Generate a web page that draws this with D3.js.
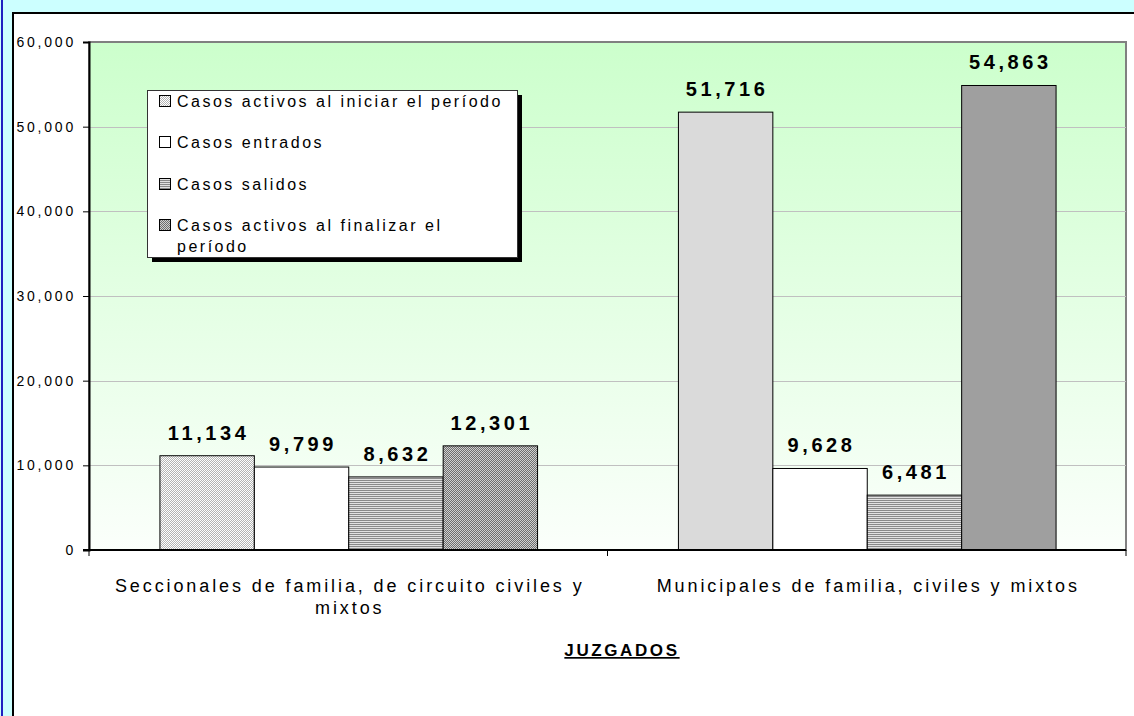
<!DOCTYPE html>
<html>
<head>
<meta charset="utf-8">
<script src="https://cdn.jsdelivr.net/npm/d3@7/dist/d3.min.js"></script>
<style>
  body { margin: 0; background: #ccffff; }
  svg { display: block; font-family: "Liberation Sans", Arial, sans-serif; }
</style>
</head>
<body>
<div id="chart"></div>
<script>
// data
var categories = [
  'Seccionales de familia,  de circuito civiles y mixtos',
  'Municipales de familia, civiles y mixtos'
];
var categoryLines = [
  ['Seccionales de familia,  de circuito civiles y', 'mixtos'],
  ['Municipales de familia, civiles y mixtos']
];
var seriesNames = [
  'Casos activos al iniciar el período',
  'Casos entrados',
  'Casos salidos',
  'Casos activos al finalizar el período'
];
var legendLines = [
  ['Casos activos al iniciar el período'],
  ['Casos entrados'],
  ['Casos salidos'],
  ['Casos activos al finalizar el', 'período']
];
var iniciar   = [11134, 51716];
var entrados  = [9799, 9628];
var salidos   = [8632, 6481];
var finalizar = [12301, 54863];
var yTicks = [0, 10000, 20000, 30000, 40000, 50000, 60000];
var axisTitle = 'JUZGADOS';

var seriesValues = [iniciar, entrados, salidos, finalizar];

var W = 1134, H = 716;
var plot = { left: 89, right: 1126, top: 42, bottom: 550 };

var svg = d3.select('#chart').append('svg')
    .attr('width', W)
    .attr('height', H);

var defs = svg.append('defs');

// plot background gradient
var grad = defs.append('linearGradient')
    .attr('id', 'plotBg')
    .attr('x1', 0).attr('y1', 0).attr('x2', 0).attr('y2', 1);
grad.append('stop').attr('offset', '0%').attr('stop-color', '#ccffcc');
grad.append('stop').attr('offset', '100%').attr('stop-color', '#fbfffb');

// bar fill patterns
var p1 = defs.append('pattern').attr('id', 'pat0')
    .attr('patternUnits', 'userSpaceOnUse').attr('width', 2).attr('height', 2);
p1.append('rect').attr('width', 2).attr('height', 2).attr('fill', '#ffffff');
p1.append('rect').attr('width', 1).attr('height', 1).attr('fill', '#b4b4b4');
p1.append('rect').attr('x', 1).attr('y', 1).attr('width', 1).attr('height', 1).attr('fill', '#b4b4b4');

var p2 = defs.append('pattern').attr('id', 'pat1')
    .attr('patternUnits', 'userSpaceOnUse').attr('width', 2).attr('height', 2);
p2.append('rect').attr('width', 2).attr('height', 2).attr('fill', '#ffffff');

var p3 = defs.append('pattern').attr('id', 'pat2')
    .attr('patternUnits', 'userSpaceOnUse').attr('width', 2).attr('height', 2);
p3.append('rect').attr('width', 2).attr('height', 2).attr('fill', '#e2e2e2');
p3.append('rect').attr('width', 2).attr('height', 1).attr('fill', '#8a8a8a');

var p4 = defs.append('pattern').attr('id', 'pat3')
    .attr('patternUnits', 'userSpaceOnUse').attr('width', 2).attr('height', 2);
p4.append('rect').attr('width', 2).attr('height', 2).attr('fill', '#d0d0d0');
p4.append('rect').attr('width', 1).attr('height', 1).attr('fill', '#6e6e6e');
p4.append('rect').attr('x', 1).attr('y', 1).attr('width', 1).attr('height', 1).attr('fill', '#6e6e6e');

// page frame
svg.append('rect').attr('x', 0).attr('y', 0).attr('width', W).attr('height', H).attr('fill', '#ccffff');
svg.append('rect').attr('x', 1).attr('y', 0).attr('width', 2).attr('height', H).attr('fill', '#2020c0');
svg.append('rect').attr('x', 13).attr('y', 13).attr('width', W).attr('height', H)
    .attr('fill', '#ffffff').attr('stroke', '#000').attr('stroke-width', 2);

// scales
var x0 = d3.scaleBand()
    .domain(categories)
    .range([plot.left, plot.right])
    .padding(0);

var x1 = d3.scaleBand()
    .domain(d3.range(seriesNames.length))
    .range([0, x0.bandwidth()])
    .paddingInner(0)
    .paddingOuter(0.746);

var y = d3.scaleLinear()
    .domain([0, 60000])
    .range([plot.bottom, plot.top]);

// plot area
svg.append('rect')
    .attr('x', plot.left).attr('y', plot.top)
    .attr('width', plot.right - plot.left).attr('height', plot.bottom - plot.top)
    .attr('fill', 'url(#plotBg)')
    .attr('stroke', '#808080').attr('stroke-width', 2);

// gridlines
svg.append('g').selectAll('line')
    .data(yTicks.filter(function(d) { return d > 0 && d < 60000; }))
    .enter().append('line')
    .attr('x1', plot.left).attr('x2', plot.right)
    .attr('y1', function(d) { return Math.round(y(d)) + 0.5; })
    .attr('y2', function(d) { return Math.round(y(d)) + 0.5; })
    .attr('stroke', '#c0c0c0');

// bars
var groups = svg.append('g').selectAll('g.cat')
    .data(categories)
    .enter().append('g')
    .attr('class', 'cat')
    .attr('transform', function(d) { return 'translate(' + x0(d) + ',0)'; });

groups.selectAll('rect')
    .data(function(d, ci) {
      return seriesValues.map(function(vals, si) { return { s: si, v: vals[ci] }; });
    })
    .enter().append('rect')
    .attr('x', function(d) { return x1(d.s) + 0.5; })
    .attr('y', function(d) { return y(d.v); })
    .attr('width', x1.bandwidth())
    .attr('height', function(d) { return plot.bottom - y(d.v); })
    .attr('fill', function(d) { return 'url(#pat' + d.s + ')'; })
    .attr('stroke', '#000')
    .attr('stroke-width', 1);

// value labels
groups.selectAll('text.val')
    .data(function(d, ci) {
      return seriesValues.map(function(vals, si) { return { s: si, v: vals[ci] }; });
    })
    .enter().append('text')
    .attr('class', 'val')
    .attr('x', function(d) { return x1(d.s) + x1.bandwidth() / 2 + 2; })
    .attr('y', function(d) { return y(d.v) - 16; })
    .attr('text-anchor', 'middle')
    .style('font-size', '20px')
    .style('font-weight', 'bold')
    .style('letter-spacing', '3.6px')
    .attr('fill', '#000')
    .text(function(d) { return d3.format(',')(d.v); });

// y axis
var yAxis = d3.axisLeft(y)
    .tickValues(yTicks)
    .tickFormat(d3.format(','))
    .tickSize(6)
    .tickPadding(7);

var gy = svg.append('g')
    .attr('transform', 'translate(' + plot.left + ',0)')
    .call(yAxis);
gy.select('.domain').attr('stroke', '#000').attr('stroke-width', 2);
gy.selectAll('.tick line').attr('stroke', '#000');
gy.selectAll('.tick text')
    .style('font-size', '14px')
    .style('letter-spacing', '2.8px')
    .style('font-family', '"Liberation Sans", Arial, sans-serif')
    .attr('fill', '#000');

// x axis
var gx = svg.append('g');
gx.append('line')
    .attr('x1', plot.left - 6).attr('x2', plot.right)
    .attr('y1', plot.bottom).attr('y2', plot.bottom)
    .attr('stroke', '#000').attr('stroke-width', 2);
gx.selectAll('line.tick')
    .data(categories.map(function(c) { return x0(c); }).concat([plot.right]))
    .enter().append('line')
    .attr('class', 'tick')
    .attr('x1', function(d) { return d; }).attr('x2', function(d) { return d; })
    .attr('y1', plot.bottom).attr('y2', plot.bottom + 6)
    .attr('stroke', '#000');

gx.selectAll('text.cat')
    .data(categories)
    .enter().append('text')
    .attr('class', 'cat')
    .attr('x', function(d) { return x0(d) + x0.bandwidth() / 2 + 1.5; })
    .attr('y', 592)
    .attr('text-anchor', 'middle')
    .style('font-size', '18px')
    .style('letter-spacing', '2.9px')
    .attr('fill', '#000')
    .each(function(d, i) {
      var t = d3.select(this);
      categoryLines[i].forEach(function(line, li) {
        t.append('tspan')
          .attr('x', t.attr('x'))
          .attr('dy', li === 0 ? 0 : 22)
          .text(line);
      });
    });

// axis title
svg.append('text')
    .attr('x', 622)
    .attr('y', 656)
    .attr('text-anchor', 'middle')
    .style('font-size', '17px')
    .style('font-weight', 'bold')
    .style('letter-spacing', '2.6px')
    .style('text-decoration', 'underline')
    .attr('fill', '#000')
    .text(axisTitle);

// legend
var lg = { x: 147, y: 90, w: 370, h: 167 };
var legend = svg.append('g');
legend.append('rect')
    .attr('x', lg.x + 5).attr('y', lg.y + 5)
    .attr('width', lg.w).attr('height', lg.h)
    .attr('fill', '#000');
legend.append('rect')
    .attr('x', lg.x + 0.5).attr('y', lg.y + 0.5)
    .attr('width', lg.w).attr('height', lg.h)
    .attr('fill', '#fff')
    .attr('stroke', '#333').attr('stroke-width', 1);

var rowBase = [107, 148, 190, 231];
var items = legend.selectAll('g.item')
    .data(seriesNames)
    .enter().append('g')
    .attr('class', 'item');

items.append('rect')
    .attr('x', 159.5)
    .attr('y', function(d, i) { return rowBase[i] - 11.5; })
    .attr('width', 11).attr('height', 11)
    .attr('fill', function(d, i) { return 'url(#pat' + i + ')'; })
    .attr('stroke', '#000');

items.append('text')
    .attr('x', 177)
    .attr('y', function(d, i) { return rowBase[i]; })
    .style('font-size', '16px')
    .style('letter-spacing', '2.5px')
    .attr('fill', '#000')
    .each(function(d, i) {
      var t = d3.select(this);
      legendLines[i].forEach(function(line, li) {
        t.append('tspan')
          .attr('x', 177)
          .attr('dy', li === 0 ? 0 : 21)
          .text(line);
      });
    });
</script>
</body>
</html>
